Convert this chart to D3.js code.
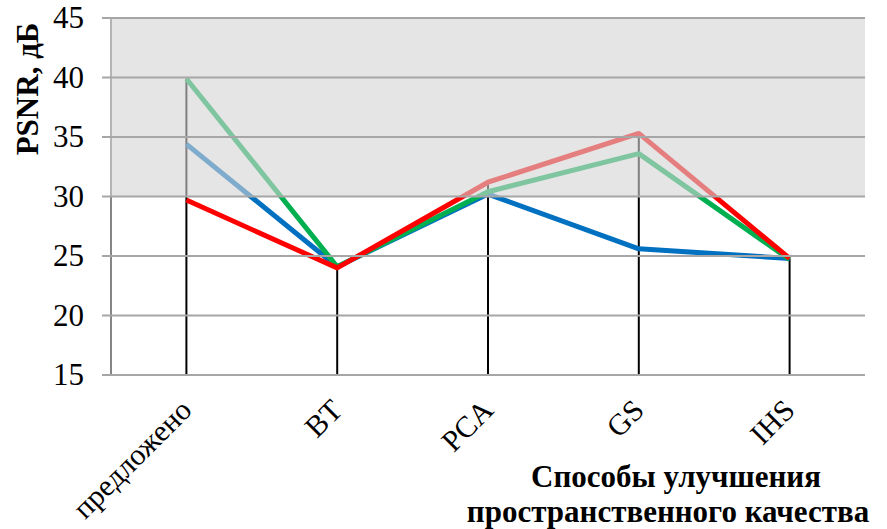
<!DOCTYPE html>
<html>
<head>
<meta charset="utf-8">
<script src="https://cdn.jsdelivr.net/npm/d3@7"></script>
<style>
  html, body { margin: 0; padding: 0; background: #fff; }
  svg { display: block; }
</style>
</head>
<body>
<svg id="chart" width="887" height="529"></svg>
<script>
// PSNR by spatial enhancement method
const categories = ["предложено", "BT", "PCA", "GS", "IHS"];
const seriesBlue  = [34.4, 24.1, 30.2, 25.6, 24.8];
const seriesGreen = [39.9, 24.1, 30.4, 33.6, 24.7];
const seriesRed   = [29.7, 24.0, 31.2, 35.3, 24.8];
const yTicks = [15, 20, 25, 30, 35, 40, 45];
const bandFrom = 30, bandTo = 45;

const series = [
  { values: seriesBlue,  color: "#0070c0" },
  { values: seriesGreen, color: "#00b050" },
  { values: seriesRed,   color: "#ff0000" }
];

const svg = d3.select("#chart");
const m = { left: 111, right: 865, top: 18, bottom: 375 };
const font = "'Liberation Serif', 'Times New Roman', serif";

const x = d3.scalePoint().domain(categories).range([m.left, m.right]).padding(0.5);
const y = d3.scaleLinear().domain([15, 45]).range([m.bottom, m.top]);

// y axis line
svg.append("line")
  .attr("x1", m.left).attr("x2", m.left)
  .attr("y1", y(45)).attr("y2", y(15))
  .attr("stroke", "#868686").attr("stroke-width", 2);

// drop lines from the highest value of each category down to the axis
const maxima = categories.map((c, i) => d3.max(series, s => s.values[i]));
svg.append("g").selectAll("line").data(categories).join("line")
  .attr("x1", d => x(d)).attr("x2", d => x(d))
  .attr("y1", (d, i) => y(maxima[i])).attr("y2", y(15))
  .attr("stroke", "#000").attr("stroke-width", 2);

// series lines
const line = d3.line()
  .x((d, i) => x(categories[i]))
  .y(d => y(d));
svg.append("g").selectAll("path").data(series).join("path")
  .attr("d", s => line(s.values))
  .attr("fill", "none")
  .attr("stroke", s => s.color)
  .attr("stroke-width", 5)
  .attr("stroke-linejoin", "round");

// translucent band over the upper range
svg.append("rect")
  .attr("x", m.left - 1).attr("width", m.right - m.left + 1)
  .attr("y", y(bandTo)).attr("height", y(bandFrom) - y(bandTo))
  .attr("fill", "rgb(212,212,212)").attr("fill-opacity", 0.6);

// horizontal grid with short ticks on the left
svg.append("g").selectAll("line").data(yTicks).join("line")
  .attr("x1", m.left - 9).attr("x2", m.right)
  .attr("y1", d => y(d)).attr("y2", d => y(d))
  .attr("stroke", "#a6a6a6").attr("stroke-width", 2);

// y tick labels
svg.append("g").selectAll("text").data(yTicks).join("text")
  .attr("x", 84).attr("y", d => y(d) + 10)
  .attr("text-anchor", "end")
  .attr("font-family", font).attr("font-size", 31)
  .text(d => d);

// x tick labels, rotated
svg.append("g").selectAll("text").data(categories).join("text")
  .attr("transform", d => `translate(${x(d) + 7},${412}) rotate(-45)`)
  .attr("text-anchor", "end")
  .attr("font-family", font).attr("font-size", 30)
  .text(d => d);

// y axis title
svg.append("text")
  .attr("transform", `translate(38,${89}) rotate(-90)`)
  .attr("text-anchor", "middle")
  .attr("font-family", font).attr("font-size", 31).attr("font-weight", "bold")
  .text("PSNR, дБ");

// x axis title
const xTitle = svg.append("text")
  .attr("text-anchor", "middle")
  .attr("font-family", font).attr("font-size", 31).attr("font-weight", "bold");
xTitle.append("tspan").attr("x", 676).attr("y", 487).text("Способы улучшения");
xTitle.append("tspan").attr("x", 668).attr("y", 522).text("пространственного качества");
</script>
</body>
</html>
